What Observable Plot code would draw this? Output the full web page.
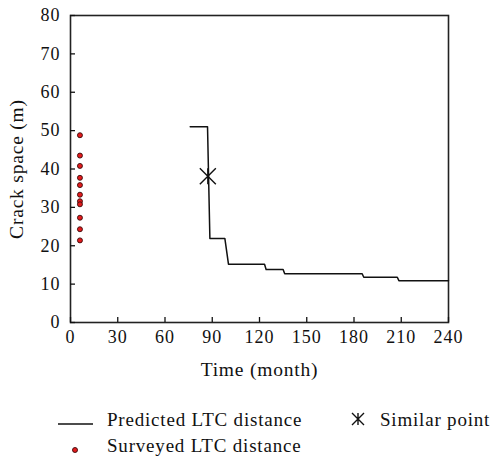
<!DOCTYPE html>
<html>
<head>
<meta charset="utf-8">
<script src="https://cdn.jsdelivr.net/npm/d3@7"></script>
<script src="https://cdn.jsdelivr.net/npm/@observablehq/plot@0.6"></script>
<style>
  html, body { margin: 0; padding: 0; background: #fff; }
  #wrap { position: relative; width: 494px; height: 459px; font-family: "Liberation Serif", serif; color: #111; }
  .lg { position: absolute; font-size: 19px; letter-spacing: 0.8px; line-height: 1; white-space: nowrap; }
  .sw { position: absolute; }
</style>
</head>
<body>
<div id="wrap"></div>
<script>
// Surveyed LTC distance (month, crack space in m)
const surveyedMonth = [6, 6, 6, 6, 6, 6, 6, 6, 6, 6, 6];
const surveyedSpace = [48.8, 43.5, 40.8, 37.7, 35.8, 33.3, 31.6, 30.8, 27.3, 24.3, 21.4];

// Predicted LTC distance (step curve)
const predictedMonth = [76, 87, 88.5, 98, 100.3, 123.2, 124.2, 135, 136, 185.2, 186.2, 207.5, 208.5, 240];
const predictedSpace = [51, 51, 21.9, 21.9, 15.2, 15.2, 13.8, 13.8, 12.7, 12.7, 11.8, 11.8, 10.9, 10.9];

// Similar point
const similarMonth = [87.2];
const similarSpace = [38.1];

const xTicks = [0, 30, 60, 90, 120, 150, 180, 210, 240];
const yTicks = [0, 10, 20, 30, 40, 50, 60, 70, 80];

const legendLabels = ["Predicted LTC distance", "Surveyed LTC distance", "Similar point"];

const surveyed = surveyedMonth.map((m, i) => ({month: m, space: surveyedSpace[i]}));
const predicted = predictedMonth.map((m, i) => ({month: m, space: predictedSpace[i]}));
const similar = similarMonth.map((m, i) => ({month: m, space: similarSpace[i]}));

// X with a vertical bar symbol
const starX = {
  draw(context, size) {
    const h = Math.sqrt(size / Math.PI);
    context.moveTo(-h, -h); context.lineTo(h, h);
    context.moveTo(h, -h); context.lineTo(-h, h);
    context.moveTo(0, -h); context.lineTo(0, h);
  }
};

const chart = Plot.plot({
  width: 494,
  height: 390,
  marginLeft: 70,
  marginRight: 46,
  marginTop: 15,
  marginBottom: 68,
  style: {fontFamily: "Liberation Serif, serif", fontSize: "18px", color: "#111", background: "#fff", letterSpacing: "1px"},
  x: {domain: [0, 240], ticks: xTicks},
  y: {domain: [0, 80], ticks: yTicks},
  marks: [
    Plot.frame({stroke: "#222", strokeWidth: 1.6}),
    Plot.axisX({ticks: xTicks, tickSize: -5, tickPadding: 13, strokeWidth: 1.3, label: "Time (month)", labelAnchor: "center", labelArrow: "none", labelOffset: 53, fontSize: 18}),
    Plot.axisY({ticks: yTicks, tickSize: -5, tickPadding: 15, strokeWidth: 1.3, label: "Crack space (m)", labelAnchor: "center", labelArrow: "none", labelOffset: 61, fontSize: 18}),
    Plot.line(predicted, {x: "month", y: "space", stroke: "#111", strokeWidth: 1.5}),
    Plot.dot(surveyed, {x: "month", y: "space", r: 2.5, fill: "#e31a1c", stroke: "#3a0a0a", strokeWidth: 0.9}),
    Plot.dot(similar, {x: "month", y: "space", symbol: starX, r: 8, stroke: "#111", strokeWidth: 1.4, fill: "none"})
  ]
});

const wrap = document.getElementById("wrap");
wrap.appendChild(chart);
chart.style.position = "absolute";
chart.style.left = "0px";
chart.style.top = "0px";

// Axis label font sizes
chart.querySelectorAll("g[aria-label$='axis label'] text").forEach(t => { t.style.fontSize = "19.5px"; t.style.letterSpacing = "0.8px"; });

// Legend
function addSwatch(svgInner, left, top, w, h) {
  const d = document.createElement("div");
  d.className = "sw";
  d.style.left = left + "px"; d.style.top = top + "px";
  d.innerHTML = `<svg width="${w}" height="${h}" viewBox="0 0 ${w} ${h}">${svgInner}</svg>`;
  wrap.appendChild(d);
}
function addText(txt, left, top) {
  const d = document.createElement("div");
  d.className = "lg";
  d.style.left = left + "px"; d.style.top = top + "px";
  d.textContent = txt;
  wrap.appendChild(d);
}
addSwatch(`<line x1="0" y1="5" x2="35" y2="5" stroke="#111" stroke-width="1.5"/>`, 58, 415, 35, 10);
addText(legendLabels[0], 107, 410);
addSwatch(`<circle cx="5" cy="5" r="2.5" fill="#e31a1c" stroke="#3a0a0a" stroke-width="0.9"/>`, 70, 441, 10, 10);
addText(legendLabels[1], 107, 436);
addSwatch(`<path d="M2,2L14,14M14,2L2,14M8,2L8,14" stroke="#111" stroke-width="1.4" fill="none"/>`, 350, 411, 16, 16);
addText(legendLabels[2], 380, 410);
</script>
</body>
</html>
